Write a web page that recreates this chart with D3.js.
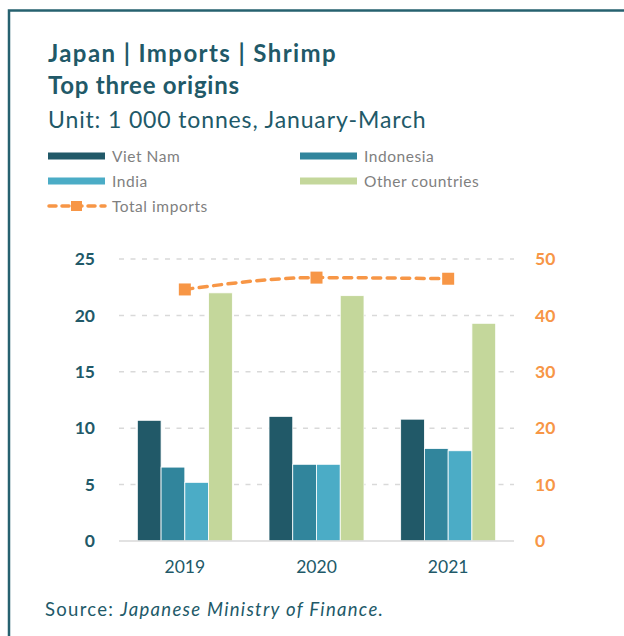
<!DOCTYPE html>
<html>
<head>
<meta charset="utf-8">
<script src="https://cdn.jsdelivr.net/npm/d3@7/dist/d3.min.js"></script>
<style>
  html, body { margin: 0; padding: 0; background: #fff; }
  svg { display: block; font-family: Lato, "Open Sans", sans-serif; }
</style>
</head>
<body>
<svg id="chart" width="624" height="636"></svg>
<script>
// Japan shrimp imports, January-March, thousand tonnes
const years = ["2019", "2020", "2021"];
const vietNam = [10.7, 11.05, 10.8];
const indonesia = [6.55, 6.8, 8.2];
const india = [5.2, 6.8, 8.0];
const otherCountries = [22.0, 21.75, 19.3];
const totalImports = [44.6, 46.7, 46.5];
const leftTicks = [0, 5, 10, 15, 20, 25];
const rightTicks = [0, 10, 20, 30, 40, 50];

const seriesNames = ["Viet Nam", "Indonesia", "India", "Other countries"];
const seriesValues = [vietNam, indonesia, india, otherCountries];
const colors = ["#215968", "#31859C", "#4BACC6", "#C4D79B"];
const orange = "#F79646";
const teal = "#215968";

const svg = d3.select("#chart");

// frame
svg.append("path")
  .attr("d", "M9,636 V10.5 H624")
  .attr("fill", "none")
  .attr("stroke", "#26616F")
  .attr("stroke-width", 2.5);

// titles
svg.append("text").attr("x", 48).attr("y", 62)
  .attr("fill", teal).attr("font-size", 24).attr("font-weight", 700)
  .attr("letter-spacing", 1.4)
  .text("Japan | Imports | Shrimp");
svg.append("text").attr("x", 48).attr("y", 94)
  .attr("fill", teal).attr("font-size", 24).attr("font-weight", 700)
  .attr("letter-spacing", 0.75)
  .text("Top three origins");
svg.append("text").attr("x", 48).attr("y", 127.5)
  .attr("fill", teal).attr("font-size", 23)
  .attr("letter-spacing", 0.86)
  .text("Unit: 1 000 tonnes, January-March");

// legend
const legendItems = [
  { name: seriesNames[0], color: colors[0], col: 0, row: 0 },
  { name: seriesNames[1], color: colors[1], col: 1, row: 0 },
  { name: seriesNames[2], color: colors[2], col: 0, row: 1 },
  { name: seriesNames[3], color: colors[3], col: 1, row: 1 }
];
const legend = svg.append("g");
const colX = [48, 300], rowY = [156, 181, 206];
legendItems.forEach(d => {
  const g = legend.append("g").attr("transform", `translate(${colX[d.col]},${rowY[d.row]})`);
  g.append("rect").attr("x", 0).attr("y", -3.5).attr("width", 57).attr("height", 7).attr("fill", d.color);
  g.append("text").attr("x", 64).attr("y", 5.5).attr("font-size", 15.5).attr("letter-spacing", 0.55)
    .attr("fill", "#7F7F7F").text(d.name);
});
{
  const g = legend.append("g").attr("transform", `translate(${colX[0]},${rowY[2]})`);
  g.append("line").attr("x1", 0).attr("x2", 57).attr("y1", 0).attr("y2", 0)
    .attr("stroke", orange).attr("stroke-width", 3.5).attr("stroke-dasharray", "7,6")
    .attr("stroke-linecap", "round").attr("stroke-dashoffset", -1);
  g.append("rect").attr("x", 23).attr("y", -5).attr("width", 11).attr("height", 10).attr("fill", orange);
  g.append("text").attr("x", 64).attr("y", 5.5).attr("font-size", 15.5).attr("letter-spacing", 0.55)
    .attr("fill", "#7F7F7F").text("Total imports");
}

// plot area
const plot = { left: 119, right: 514, top: 259, bottom: 541 };
const x = d3.scaleBand().domain(years).range([plot.left, plot.right]);
const groupWidth = 95;
const xs = d3.scaleBand().domain(seriesNames)
  .range([(x.bandwidth() - groupWidth) / 2, (x.bandwidth() + groupWidth) / 2]);
const yL = d3.scaleLinear().domain([0, 25]).range([plot.bottom, plot.top]);
const yR = d3.scaleLinear().domain([0, 50]).range([plot.bottom, plot.top]);

// gridlines
svg.append("g").selectAll("line").data(leftTicks.filter(t => t > 0)).join("line")
  .attr("x1", plot.left).attr("x2", plot.right)
  .attr("y1", d => yL(d)).attr("y2", d => yL(d))
  .attr("stroke", "#D9D9D9").attr("stroke-width", 1.5).attr("stroke-dasharray", "5,6.5");

// bars
const barData = [];
years.forEach((yr, i) => seriesNames.forEach((s, j) => barData.push({ yr, s, v: seriesValues[j][i], c: colors[j] })));
svg.append("g").selectAll("rect").data(barData).join("rect")
  .attr("x", d => x(d.yr) + xs(d.s))
  .attr("width", xs.bandwidth())
  .attr("y", d => yL(d.v))
  .attr("height", d => yL(0) - yL(d.v))
  .attr("fill", d => d.c)
  .attr("stroke", "#fff").attr("stroke-width", 0.8);

// baseline
svg.append("line").attr("x1", plot.left).attr("x2", plot.right)
  .attr("y1", plot.bottom).attr("y2", plot.bottom)
  .attr("stroke", "#D9D9D9").attr("stroke-width", 1.5);

// left axis
const axisL = svg.append("g").attr("transform", `translate(${plot.left},0)`)
  .call(d3.axisLeft(yL).tickValues(leftTicks).tickSize(0).tickPadding(24));
axisL.select(".domain").remove();
axisL.selectAll("text").attr("font-size", 17.5).attr("font-weight", 700).attr("fill", teal)
  .attr("font-family", "Lato, sans-serif");

// right axis
const axisR = svg.append("g").attr("transform", `translate(${plot.right},0)`)
  .call(d3.axisRight(yR).tickValues(rightTicks).tickSize(0).tickPadding(21));
axisR.select(".domain").remove();
axisR.selectAll("text").attr("font-size", 17.5).attr("font-weight", 700).attr("fill", orange)
  .attr("font-family", "Lato, sans-serif");

// category axis
const axisB = svg.append("g").attr("transform", `translate(0,${plot.bottom})`)
  .call(d3.axisBottom(x).tickSize(0).tickPadding(20));
axisB.select(".domain").remove();
axisB.selectAll("text").attr("font-size", 17.5).attr("fill", teal)
  .attr("font-family", "Lato, sans-serif");

// total imports line (smoothed), centred on each year group
const lineX = i => x(years[i]) + x.bandwidth() / 2;
const lineGen = d3.line().x((d, i) => lineX(i)).y(d => yR(d)).curve(d3.curveMonotoneX);
svg.append("path").datum(totalImports)
  .attr("d", lineGen)
  .attr("fill", "none").attr("stroke", orange).attr("stroke-width", 3.5)
  .attr("stroke-dasharray", "8,6.5").attr("stroke-linecap", "round");
svg.append("g").selectAll("rect").data(totalImports).join("rect")
  .attr("x", (d, i) => lineX(i) - 6).attr("y", d => yR(d) - 6)
  .attr("width", 12).attr("height", 12).attr("fill", orange);

// source
const src = svg.append("text").attr("x", 45).attr("y", 616).attr("font-size", 18.5)
  .attr("letter-spacing", 1.3).attr("fill", teal);
src.append("tspan").text("Source: ");
src.append("tspan").attr("font-style", "italic").text("Japanese Ministry of Finance.");
</script>
</body>
</html>
